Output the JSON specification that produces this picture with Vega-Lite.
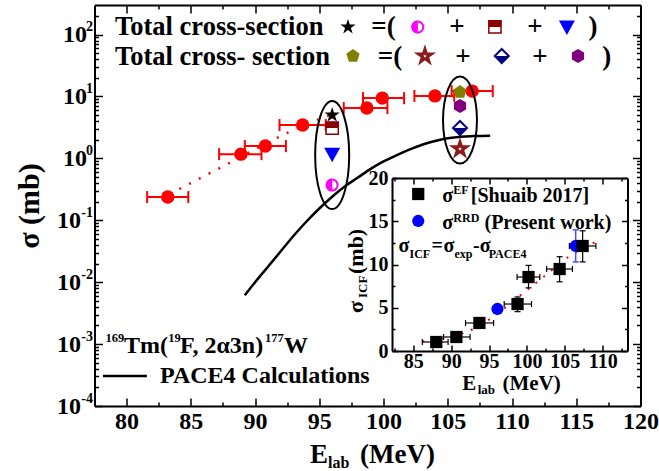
{
  "$schema": "https://vega.github.io/schema/vega-lite/v6.json",
  "width": 546,
  "height": 401,
  "autosize": {"type": "none"},
  "padding": {"left": 94.5, "top": 5, "right": 18.5, "bottom": 65},
  "config": {
    "font": "Liberation Serif",
    "view": {"stroke": null},
    "axis": {"grid": false, "domainColor": "black", "tickColor": "black", "labelColor": "black", "titleColor": "black", "labelFont": "Liberation Serif", "titleFont": "Liberation Serif", "labelFontWeight": "bold", "titleFontWeight": "bold", "domainWidth": 2, "tickWidth": 1.5},
    "point": {"opacity": 1},
    "tick": {"opacity": 1},
    "text": {"font": "Liberation Serif", "fontWeight": "bold", "color": "black"}
  },
  "resolve": {"scale": {"x": "independent", "y": "independent"}, "axis": {"x": "independent", "y": "independent"}},
  "layer": [
    {
      "resolve": {"axis": {"x": "independent", "y": "independent"}},
      "layer": [
        {
          "data": {"values": [
            {"x": 89.2, "y": 0.00617}, {"x": 90, "y": 0.01}, {"x": 91, "y": 0.0178}, {"x": 92, "y": 0.0316}, {"x": 93, "y": 0.0562},
            {"x": 94, "y": 0.0955}, {"x": 95, "y": 0.155}, {"x": 96, "y": 0.24}, {"x": 97, "y": 0.355}, {"x": 98, "y": 0.49},
            {"x": 99, "y": 0.676}, {"x": 100, "y": 0.891}, {"x": 101, "y": 1.12}, {"x": 102, "y": 1.38}, {"x": 103, "y": 1.66},
            {"x": 104, "y": 1.91}, {"x": 105, "y": 2.11}, {"x": 106, "y": 2.24}, {"x": 107, "y": 2.29}, {"x": 108.3, "y": 2.32}
          ]},
          "mark": {"type": "line", "color": "black", "strokeWidth": 2.5, "interpolate": "monotone"},
          "encoding": {
            "x": {"field": "x", "type": "quantitative", "scale": {"domain": [77.5, 120], "nice": false, "zero": false},
              "axis": {"orient": "bottom", "values": [80, 85, 90, 95, 100, 105, 110, 115, 120], "tickSize": -8, "labelFontSize": 24, "labelPadding": 11, "labelFlush": false, "labelOverlap": false, "title": null}},
            "y": {"field": "y", "type": "quantitative", "scale": {"type": "log", "domain": [0.0001, 300], "nice": false},
              "axis": {"orient": "left", "values": [0.0001, 0.001, 0.01, 0.1, 1, 10, 100], "tickSize": -8, "labelExpr": "'10'", "labelFontSize": 24, "labelAlign": "right", "labelBaseline": "middle", "labelPadding": {"condition": {"test": "datum.value >= 1", "value": 16}, "value": 22}, "labelFlush": false, "labelOverlap": false, "title": "σ (mb)", "titleFontSize": 30, "titlePadding": 12}}
          }
        },
        {
          "data": {"values": [{"x": 84.1, "y": 0.32}, {"x": 88, "y": 0.84}, {"x": 92.5, "y": 2.57}, {"x": 95.8, "y": 5.0}]},
          "mark": {"type": "line", "color": "#ff0000", "strokeWidth": 2.5, "strokeDash": [2, 9], "interpolate": "monotone"},
          "encoding": {
            "x": {"field": "x", "type": "quantitative", "scale": {"domain": [77.5, 120], "nice": false, "zero": false},
              "axis": {"orient": "bottom", "values": [82.5, 87.5, 92.5, 97.5, 102.5, 107.5, 112.5, 117.5], "tickSize": -4, "labels": false, "domain": false, "title": null}},
            "y": {"field": "y", "type": "quantitative", "scale": {"type": "log", "domain": [0.0001, 300], "nice": false},
              "axis": {"orient": "left", "values": [0.0001, 0.001, 0.01, 0.1, 1, 10, 100], "ticks": false, "domain": false, "labelExpr": "'' + round(log(datum.value)/LN10)", "labelFontSize": 14, "labelAlign": "right", "labelBaseline": "middle", "labelPadding": 2, "labelOffset": -8, "labelFlush": false, "labelOverlap": false, "title": null}}
          }
        },
        {
          "data": {"name": "red", "values": [
            {"x": 83.2, "y": 0.237, "xlo": 81.6, "xhi": 84.8},
            {"x": 88.9, "y": 1.17, "xlo": 87.2, "xhi": 90.5},
            {"x": 90.8, "y": 1.58, "xlo": 89.2, "xhi": 92.4},
            {"x": 93.7, "y": 3.45, "xlo": 91.9, "xhi": 95.5},
            {"x": 98.7, "y": 6.5, "xlo": 96.9, "xhi": 100.3},
            {"x": 99.9, "y": 9.4, "xlo": 98.4, "xhi": 101.6},
            {"x": 104.0, "y": 10.2, "xlo": 102.4, "xhi": 105.5},
            {"x": 106.9, "y": 12.2, "xlo": 105.3, "xhi": 108.5}
          ]},
          "mark": {"type": "rule", "color": "#ff0000", "strokeWidth": 2},
          "encoding": {
            "x": {"field": "xlo", "type": "quantitative", "scale": {"domain": [77.5, 120], "nice": false, "zero": false},
              "axis": {"orient": "top", "values": [80, 85, 90, 95, 100, 105, 110, 115, 120], "tickSize": -8, "labels": false, "title": null}},
            "x2": {"field": "xhi"},
            "y": {"field": "y", "type": "quantitative", "scale": {"type": "log", "domain": [0.0001, 300], "nice": false},
              "axis": {"orient": "left", "values": [0.0002, 0.0003, 0.0004, 0.0005, 0.0006, 0.0007, 0.0008, 0.0009, 0.002, 0.003, 0.004, 0.005, 0.006, 0.007, 0.008, 0.009, 0.02, 0.03, 0.04, 0.05, 0.06, 0.07, 0.08, 0.09, 0.2, 0.3, 0.4, 0.5, 0.6, 0.7, 0.8, 0.9, 2, 3, 4, 5, 6, 7, 8, 9, 20, 30, 40, 50, 60, 70, 80, 90, 200], "tickSize": -4, "labels": false, "domain": false, "title": null}}
          }
        },
        {
          "data": {"name": "red"},
          "transform": [{"fold": ["xlo", "xhi"], "as": ["k", "xc"]}],
          "mark": {"type": "tick", "orient": "vertical", "color": "#ff0000", "size": 12, "thickness": 2},
          "encoding": {
            "x": {"field": "xc", "type": "quantitative", "scale": {"domain": [77.5, 120], "nice": false, "zero": false},
              "axis": {"orient": "top", "values": [82.5, 87.5, 92.5, 97.5, 102.5, 107.5, 112.5, 117.5], "tickSize": -4, "labels": false, "domain": false, "title": null}},
            "y": {"field": "y", "type": "quantitative", "scale": {"type": "log", "domain": [0.0001, 300], "nice": false},
              "axis": {"orient": "right", "values": [0.0001, 0.001, 0.01, 0.1, 1, 10, 100], "tickSize": -8, "labels": false, "title": null}}
          }
        },
        {
          "data": {"name": "red"},
          "mark": {"type": "point", "shape": "circle", "filled": true, "color": "#ff0000", "size": 180},
          "encoding": {
            "x": {"field": "x", "type": "quantitative", "scale": {"domain": [77.5, 120], "nice": false, "zero": false}, "axis": null},
            "y": {"field": "y", "type": "quantitative", "scale": {"type": "log", "domain": [0.0001, 300], "nice": false},
              "axis": {"orient": "right", "values": [0.0002, 0.0003, 0.0004, 0.0005, 0.0006, 0.0007, 0.0008, 0.0009, 0.002, 0.003, 0.004, 0.005, 0.006, 0.007, 0.008, 0.009, 0.02, 0.03, 0.04, 0.05, 0.06, 0.07, 0.08, 0.09, 0.2, 0.3, 0.4, 0.5, 0.6, 0.7, 0.8, 0.9, 2, 3, 4, 5, 6, 7, 8, 9, 20, 30, 40, 50, 60, 70, 80, 90, 200], "tickSize": -4, "labels": false, "domain": false, "title": null}}
          }
        },
        {
          "data": {"values": [{"x": 96.0, "y": 1.13}]},
          "mark": {"type": "point", "shape": "M0,-1A0.315,1,0,1,1,0,1A0.315,1,0,1,1,0,-1Z", "filled": false, "stroke": "black", "strokeWidth": 2, "size": 11664},
          "encoding": {
            "x": {"field": "x", "type": "quantitative", "scale": {"domain": [77.5, 120], "nice": false, "zero": false}, "axis": null},
            "y": {"field": "y", "type": "quantitative", "scale": {"type": "log", "domain": [0.0001, 300], "nice": false}, "axis": null}
          }
        },
        {
          "data": {"values": [{"x": 105.95, "y": 4.16}]},
          "mark": {"type": "point", "shape": "M0,-1A0.39,1,0,1,1,0,1A0.39,1,0,1,1,0,-1Z", "filled": false, "stroke": "black", "strokeWidth": 2, "size": 7569},
          "encoding": {
            "x": {"field": "x", "type": "quantitative", "scale": {"domain": [77.5, 120], "nice": false, "zero": false}, "axis": null},
            "y": {"field": "y", "type": "quantitative", "scale": {"type": "log", "domain": [0.0001, 300], "nice": false}, "axis": null}
          }
        },
        {
          "data": {"values": [{"x": 96.0, "y": 5.0}, {"x": 97.23, "y": 132.4}]},
          "mark": {"type": "point", "shape": "M0,-1L0.2245,-0.309L0.951,-0.309L0.363,0.118L0.588,0.809L0,0.382L-0.588,0.809L-0.363,0.118L-0.951,-0.309L-0.2245,-0.309Z", "filled": true, "color": "black", "size": 256},
          "encoding": {
            "x": {"field": "x", "type": "quantitative", "scale": {"domain": [77.5, 120], "nice": false, "zero": false}, "axis": null},
            "y": {"field": "y", "type": "quantitative", "scale": {"type": "log", "domain": [0.0001, 300], "nice": false}, "axis": null}
          }
        },
        {
          "data": {"name": "mag", "values": [{"x": 96.0, "y": 0.37}, {"x": 102.67, "y": 132.4}]},
          "mark": {"type": "point", "shape": "circle", "filled": true, "fill": "white", "stroke": "#ff00ff", "strokeWidth": 2, "size": 120},
          "encoding": {
            "x": {"field": "x", "type": "quantitative", "scale": {"domain": [77.5, 120], "nice": false, "zero": false}, "axis": null},
            "y": {"field": "y", "type": "quantitative", "scale": {"type": "log", "domain": [0.0001, 300], "nice": false}, "axis": null}
          }
        },
        {
          "data": {"name": "mag"},
          "mark": {"type": "point", "shape": "M0,-1A1,1,0,0,0,0,1Z", "filled": true, "color": "#ff00ff", "size": 169},
          "encoding": {
            "x": {"field": "x", "type": "quantitative", "scale": {"domain": [77.5, 120], "nice": false, "zero": false}, "axis": null},
            "y": {"field": "y", "type": "quantitative", "scale": {"type": "log", "domain": [0.0001, 300], "nice": false}, "axis": null}
          }
        },
        {
          "data": {"name": "brsq", "values": [{"x": 96.0, "y": 3.09}, {"x": 108.67, "y": 132.4}]},
          "mark": {"type": "point", "shape": "square", "filled": true, "fill": "white", "stroke": "#8b0000", "strokeWidth": 1.5, "size": 150},
          "encoding": {
            "x": {"field": "x", "type": "quantitative", "scale": {"domain": [77.5, 120], "nice": false, "zero": false}, "axis": null},
            "y": {"field": "y", "type": "quantitative", "scale": {"type": "log", "domain": [0.0001, 300], "nice": false}, "axis": null}
          }
        },
        {
          "data": {"name": "brsq"},
          "mark": {"type": "point", "shape": "M-1,-1L1,-1L1,0L-1,0Z", "filled": true, "color": "#8b0000", "size": 150},
          "encoding": {
            "x": {"field": "x", "type": "quantitative", "scale": {"domain": [77.5, 120], "nice": false, "zero": false}, "axis": null},
            "y": {"field": "y", "type": "quantitative", "scale": {"type": "log", "domain": [0.0001, 300], "nice": false}, "axis": null}
          }
        },
        {
          "data": {"values": [{"x": 96.0, "y": 1.17}, {"x": 114.27, "y": 132.4}]},
          "mark": {"type": "point", "shape": "M-1,-0.8L1,-0.8L0,1Z", "filled": true, "color": "#0000ff", "size": 256},
          "encoding": {
            "x": {"field": "x", "type": "quantitative", "scale": {"domain": [77.5, 120], "nice": false, "zero": false}, "axis": null},
            "y": {"field": "y", "type": "quantitative", "scale": {"type": "log", "domain": [0.0001, 300], "nice": false}, "axis": null}
          }
        },
        {
          "data": {"values": [{"x": 105.95, "y": 11.8}, {"x": 97.62, "y": 45.0}]},
          "mark": {"type": "point", "shape": "M0,-1L0.951,-0.309L0.588,0.809L-0.588,0.809L-0.951,-0.309Z", "filled": true, "color": "#808000", "size": 196},
          "encoding": {
            "x": {"field": "x", "type": "quantitative", "scale": {"domain": [77.5, 120], "nice": false, "zero": false}, "axis": null},
            "y": {"field": "y", "type": "quantitative", "scale": {"type": "log", "domain": [0.0001, 300], "nice": false}, "axis": null}
          }
        },
        {
          "data": {"values": [{"x": 105.95, "y": 1.42}, {"x": 103.22, "y": 45.0}]},
          "mark": {"type": "point", "shape": "M0,-1L0.2245,-0.309L0.951,-0.309L0.363,0.118L0.588,0.809L0,0.382L-0.588,0.809L-0.363,0.118L-0.951,-0.309L-0.2245,-0.309Z", "filled": true, "fill": "white", "stroke": "#8b1a1a", "strokeWidth": 3, "size": 190},
          "encoding": {
            "x": {"field": "x", "type": "quantitative", "scale": {"domain": [77.5, 120], "nice": false, "zero": false}, "axis": null},
            "y": {"field": "y", "type": "quantitative", "scale": {"type": "log", "domain": [0.0001, 300], "nice": false}, "axis": null}
          }
        },
        {
          "data": {"name": "dia", "values": [{"x": 105.95, "y": 3.09}, {"x": 109.2, "y": 45.0}]},
          "mark": {"type": "point", "shape": "M0,-1L1,0L0,1L-1,0Z", "filled": true, "fill": "white", "stroke": "#000080", "strokeWidth": 2, "size": 196},
          "encoding": {
            "x": {"field": "x", "type": "quantitative", "scale": {"domain": [77.5, 120], "nice": false, "zero": false}, "axis": null},
            "y": {"field": "y", "type": "quantitative", "scale": {"type": "log", "domain": [0.0001, 300], "nice": false}, "axis": null}
          }
        },
        {
          "data": {"name": "dia"},
          "mark": {"type": "point", "shape": "M-1,0L1,0L0,1Z", "filled": true, "color": "#000080", "size": 196},
          "encoding": {
            "x": {"field": "x", "type": "quantitative", "scale": {"domain": [77.5, 120], "nice": false, "zero": false}, "axis": null},
            "y": {"field": "y", "type": "quantitative", "scale": {"type": "log", "domain": [0.0001, 300], "nice": false}, "axis": null}
          }
        },
        {
          "data": {"values": [{"x": 105.95, "y": 7.0}, {"x": 115.13, "y": 45.0}]},
          "mark": {"type": "point", "shape": "M0,-1L0.866,-0.5L0.866,0.5L0,1L-0.866,0.5L-0.866,-0.5Z", "filled": true, "color": "#800080", "size": 196},
          "encoding": {
            "x": {"field": "x", "type": "quantitative", "scale": {"domain": [77.5, 120], "nice": false, "zero": false}, "axis": null},
            "y": {"field": "y", "type": "quantitative", "scale": {"type": "log", "domain": [0.0001, 300], "nice": false}, "axis": null}
          }
        },
        {
          "data": {"values": [{"x": 78.16, "x2": 81.58, "y": 0.000305}]},
          "mark": {"type": "rule", "color": "black", "strokeWidth": 2.5},
          "encoding": {
            "x": {"field": "x", "type": "quantitative", "scale": {"domain": [77.5, 120], "nice": false, "zero": false}, "axis": null},
            "x2": {"field": "x2"},
            "y": {"field": "y", "type": "quantitative", "scale": {"type": "log", "domain": [0.0001, 300], "nice": false}, "axis": null}
          }
        },
        {
          "data": {"values": [
            {"x": 79.1, "y": 98.2, "t": "Total cross-section"},
            {"x": 79.1, "y": 32.2, "t": "Total cross- section"}
          ]},
          "mark": {"type": "text", "fontSize": 26.5, "align": "left", "baseline": "alphabetic"},
          "encoding": {
            "x": {"field": "x", "type": "quantitative", "scale": {"domain": [77.5, 120], "nice": false, "zero": false}, "axis": null},
            "y": {"field": "y", "type": "quantitative", "scale": {"type": "log", "domain": [0.0001, 300], "nice": false}, "axis": null},
            "text": {"field": "t"}
          }
        },
        {
          "data": {"values": [
            {"x": 99.99, "y": 98.2, "t": "=("}, {"x": 105.71, "y": 98.2, "t": "+"}, {"x": 111.78, "y": 98.2, "t": "+"}, {"x": 116.3, "y": 98.2, "t": ")"},
            {"x": 100.5, "y": 32.2, "t": "=("}, {"x": 106.18, "y": 32.2, "t": "+"}, {"x": 112.17, "y": 32.2, "t": "+"}, {"x": 117.38, "y": 32.2, "t": ")"}
          ]},
          "mark": {"type": "text", "fontSize": 27, "align": "center", "baseline": "alphabetic"},
          "encoding": {
            "x": {"field": "x", "type": "quantitative", "scale": {"domain": [77.5, 120], "nice": false, "zero": false}, "axis": null},
            "y": {"field": "y", "type": "quantitative", "scale": {"type": "log", "domain": [0.0001, 300], "nice": false}, "axis": null},
            "text": {"field": "t"}
          }
        },
        {
          "data": {"values": [
            {"x": 79.8, "y": 0.00072, "t": "Tm("},
            {"x": 84.15, "y": 0.00072, "t": "F, 2α3n)"},
            {"x": 92.25, "y": 0.00072, "t": "W"},
            {"x": 82.6, "y": 0.000234, "t": "PACE4 Calculations"}
          ]},
          "mark": {"type": "text", "fontSize": 24, "align": "left", "baseline": "alphabetic"},
          "encoding": {
            "x": {"field": "x", "type": "quantitative", "scale": {"domain": [77.5, 120], "nice": false, "zero": false}, "axis": null},
            "y": {"field": "y", "type": "quantitative", "scale": {"type": "log", "domain": [0.0001, 300], "nice": false}, "axis": null},
            "text": {"field": "t"}
          }
        },
        {
          "data": {"values": [
            {"x": 78.35, "y": 0.00108, "t": "169"},
            {"x": 83.25, "y": 0.00108, "t": "19"},
            {"x": 90.77, "y": 0.00108, "t": "177"}
          ]},
          "mark": {"type": "text", "fontSize": 12.5, "align": "left", "baseline": "alphabetic"},
          "encoding": {
            "x": {"field": "x", "type": "quantitative", "scale": {"domain": [77.5, 120], "nice": false, "zero": false}, "axis": null},
            "y": {"field": "y", "type": "quantitative", "scale": {"type": "log", "domain": [0.0001, 300], "nice": false}, "axis": null},
            "text": {"field": "t"}
          }
        },
        {
          "data": {"values": [
            {"x": 94.27, "y": 0.000012, "t": "E"},
            {"x": 98.16, "y": 0.000012, "t": "(MeV)"}
          ]},
          "mark": {"type": "text", "fontSize": 27, "align": "left", "baseline": "alphabetic"},
          "encoding": {
            "x": {"field": "x", "type": "quantitative", "scale": {"domain": [77.5, 120], "nice": false, "zero": false}, "axis": null},
            "y": {"field": "y", "type": "quantitative", "scale": {"type": "log", "domain": [0.0001, 300], "nice": false}, "axis": null},
            "text": {"field": "t"}
          }
        },
        {
          "data": {"values": [{"x": 95.67, "y": 0.0000099, "t": "lab"}]},
          "mark": {"type": "text", "fontSize": 16, "align": "left", "baseline": "alphabetic"},
          "encoding": {
            "x": {"field": "x", "type": "quantitative", "scale": {"domain": [77.5, 120], "nice": false, "zero": false}, "axis": null},
            "y": {"field": "y", "type": "quantitative", "scale": {"type": "log", "domain": [0.0001, 300], "nice": false}, "axis": null},
            "text": {"field": "t"}
          }
        }
      ]
    },
    {
      "resolve": {"axis": {"x": "independent", "y": "independent"}},
      "layer": [
        {
          "data": {"values": [{}]},
          "mark": {"type": "rect", "fill": "white"},
          "encoding": {
            "x": {"datum": 82.2, "type": "quantitative", "scale": {"domain": [82.2, 113.2], "range": [297.5, 532.5], "nice": false, "zero": false}, "axis": null},
            "x2": {"datum": 113.2},
            "y": {"datum": 0, "type": "quantitative", "scale": {"domain": [0, 20], "range": [346, 173], "nice": false, "zero": false}, "axis": null},
            "y2": {"datum": 20}
          }
        },
        {
          "data": {"values": [{"x": 86.2, "y": 1.1}, {"x": 88.8, "y": 1.45}, {"x": 92.3, "y": 2.3}, {"x": 95.8, "y": 4.1}, {"x": 99.5, "y": 6.7}, {"x": 102.1, "y": 8.5}, {"x": 105.5, "y": 10.9}, {"x": 109.3, "y": 12.7}]},
          "mark": {"type": "line", "color": "#ff0000", "strokeWidth": 2, "strokeDash": [2, 8], "interpolate": "monotone"},
          "encoding": {
            "x": {"field": "x", "type": "quantitative", "scale": {"domain": [82.2, 113.2], "range": [297.5, 532.5], "nice": false, "zero": false},
              "axis": {"orient": "bottom", "offset": -55, "zindex": 1, "values": [85, 90, 95, 100, 105, 110], "tickSize": -6, "labelFontSize": 20, "labelPadding": 6.5, "labelFlush": false, "labelOverlap": false, "title": null}},
            "y": {"field": "y", "type": "quantitative", "scale": {"domain": [0, 20], "range": [346, 173], "nice": false, "zero": false},
              "axis": {"orient": "left", "offset": -297.5, "zindex": 1, "values": [0, 5, 10, 15, 20], "tickSize": -6, "labelFontSize": 20, "labelPadding": 10, "labelFlush": false, "labelOverlap": false, "title": null}}
          }
        },
        {
          "data": {"name": "ef", "values": [
            {"x": 88.04, "y": 1.04, "xlo": 86.2, "xhi": 89.6, "ylo": 0.8, "yhi": 1.3},
            {"x": 90.69, "y": 1.62, "xlo": 89.0, "xhi": 92.5, "ylo": 1.35, "yhi": 1.9},
            {"x": 93.73, "y": 3.24, "xlo": 91.9, "xhi": 95.6, "ylo": 2.9, "yhi": 3.6},
            {"x": 98.76, "y": 5.43, "xlo": 97.0, "xhi": 100.6, "ylo": 4.55, "yhi": 6.25},
            {"x": 100.21, "y": 8.55, "xlo": 98.7, "xhi": 101.7, "ylo": 7.3, "yhi": 9.9},
            {"x": 104.31, "y": 9.48, "xlo": 102.6, "xhi": 106.0, "ylo": 8.0, "yhi": 10.9},
            {"x": 107.35, "y": 12.14, "xlo": 105.6, "xhi": 109.1, "ylo": 10.3, "yhi": 13.9}
          ]},
          "mark": {"type": "rule", "color": "black", "strokeWidth": 1.2},
          "encoding": {
            "x": {"field": "xlo", "type": "quantitative", "scale": {"domain": [82.2, 113.2], "range": [297.5, 532.5], "nice": false, "zero": false},
              "axis": {"orient": "bottom", "offset": -55, "zindex": 1, "values": [82.5, 87.5, 92.5, 97.5, 102.5, 107.5, 112.5], "tickSize": -3, "labels": false, "domain": false, "title": null}},
            "x2": {"field": "xhi"},
            "y": {"field": "y", "type": "quantitative", "scale": {"domain": [0, 20], "range": [346, 173], "nice": false, "zero": false},
              "axis": {"orient": "left", "offset": -297.5, "zindex": 1, "values": [2.5, 7.5, 12.5, 17.5], "tickSize": -3, "labels": false, "domain": false, "title": null}}
          }
        },
        {
          "data": {"name": "ef"},
          "mark": {"type": "rule", "color": "black", "strokeWidth": 1.2},
          "encoding": {
            "x": {"field": "x", "type": "quantitative", "scale": {"domain": [82.2, 113.2], "range": [297.5, 532.5], "nice": false, "zero": false},
              "axis": {"orient": "top", "offset": -173, "zindex": 1, "values": [85, 90, 95, 100, 105, 110], "tickSize": -6, "labels": false, "title": null}},
            "y": {"field": "ylo", "type": "quantitative", "scale": {"domain": [0, 20], "range": [346, 173], "nice": false, "zero": false},
              "axis": {"orient": "right", "offset": -13, "zindex": 1, "values": [0, 5, 10, 15, 20], "tickSize": -6, "labels": false, "title": null}},
            "y2": {"field": "yhi"}
          }
        },
        {
          "data": {"name": "ef"},
          "transform": [{"fold": ["xlo", "xhi"], "as": ["k", "xc"]}],
          "mark": {"type": "tick", "orient": "vertical", "color": "black", "size": 6, "thickness": 1.2},
          "encoding": {
            "x": {"field": "xc", "type": "quantitative", "scale": {"domain": [82.2, 113.2], "range": [297.5, 532.5], "nice": false, "zero": false},
              "axis": {"orient": "top", "offset": -173, "zindex": 1, "values": [82.5, 87.5, 92.5, 97.5, 102.5, 107.5, 112.5], "tickSize": -3, "labels": false, "domain": false, "title": null}},
            "y": {"field": "y", "type": "quantitative", "scale": {"domain": [0, 20], "range": [346, 173], "nice": false, "zero": false},
              "axis": {"orient": "right", "offset": -13, "zindex": 1, "values": [2.5, 7.5, 12.5, 17.5], "tickSize": -3, "labels": false, "domain": false, "title": null}}
          }
        },
        {
          "data": {"name": "ef"},
          "transform": [{"fold": ["ylo", "yhi"], "as": ["k", "yc"]}],
          "mark": {"type": "tick", "orient": "horizontal", "color": "black", "size": 6, "thickness": 1.2},
          "encoding": {
            "x": {"field": "x", "type": "quantitative", "scale": {"domain": [82.2, 113.2], "range": [297.5, 532.5], "nice": false, "zero": false}, "axis": null},
            "y": {"field": "yc", "type": "quantitative", "scale": {"domain": [0, 20], "range": [346, 173], "nice": false, "zero": false}, "axis": null}
          }
        },
        {
          "data": {"name": "rrd", "values": [
            {"x": 96.11, "y": 4.86, "ylo": 4.35, "yhi": 5.35},
            {"x": 106.43, "y": 12.14, "ylo": 10.3, "yhi": 14.0}
          ]},
          "mark": {"type": "rule", "color": "#4d4dff", "strokeWidth": 1.5},
          "encoding": {
            "x": {"field": "x", "type": "quantitative", "scale": {"domain": [82.2, 113.2], "range": [297.5, 532.5], "nice": false, "zero": false}, "axis": null},
            "y": {"field": "ylo", "type": "quantitative", "scale": {"domain": [0, 20], "range": [346, 173], "nice": false, "zero": false}, "axis": null},
            "y2": {"field": "yhi"}
          }
        },
        {
          "data": {"name": "rrd"},
          "transform": [{"fold": ["ylo", "yhi"], "as": ["k", "yc"]}],
          "mark": {"type": "tick", "orient": "horizontal", "color": "#4d4dff", "size": 6, "thickness": 1.5},
          "encoding": {
            "x": {"field": "x", "type": "quantitative", "scale": {"domain": [82.2, 113.2], "range": [297.5, 532.5], "nice": false, "zero": false}, "axis": null},
            "y": {"field": "yc", "type": "quantitative", "scale": {"domain": [0, 20], "range": [346, 173], "nice": false, "zero": false}, "axis": null}
          }
        },
        {
          "data": {"values": [{"x": 85.66, "y": 15.03}, {"x": 96.11, "y": 4.86}, {"x": 106.43, "y": 12.14}]},
          "mark": {"type": "point", "shape": "circle", "filled": true, "color": "#0000ff", "size": 150},
          "encoding": {
            "x": {"field": "x", "type": "quantitative", "scale": {"domain": [82.2, 113.2], "range": [297.5, 532.5], "nice": false, "zero": false}, "axis": null},
            "y": {"field": "y", "type": "quantitative", "scale": {"domain": [0, 20], "range": [346, 173], "nice": false, "zero": false}, "axis": null}
          }
        },
        {
          "data": {"values": [
            {"x": 85.66, "y": 18.15}, {"x": 88.04, "y": 1.04}, {"x": 90.69, "y": 1.62}, {"x": 93.73, "y": 3.24}, {"x": 98.76, "y": 5.43},
            {"x": 100.21, "y": 8.55}, {"x": 104.31, "y": 9.48}, {"x": 107.35, "y": 12.14}
          ]},
          "mark": {"type": "point", "shape": "square", "filled": true, "color": "black", "size": 150},
          "encoding": {
            "x": {"field": "x", "type": "quantitative", "scale": {"domain": [82.2, 113.2], "range": [297.5, 532.5], "nice": false, "zero": false}, "axis": null},
            "y": {"field": "y", "type": "quantitative", "scale": {"domain": [0, 20], "range": [346, 173], "nice": false, "zero": false}, "axis": null}
          }
        },
        {
          "data": {"values": [
            {"x": 88.84, "y": 17.23, "t": "σ"}, {"x": 92.6, "y": 17.23, "t": "[Shuaib 2017]"},
            {"x": 88.84, "y": 14.1, "t": "σ"}, {"x": 94.4, "y": 14.1, "t": "(Present work)"},
            {"x": 83.06, "y": 11.45, "t": "σ"}, {"x": 87.4, "y": 11.45, "t": "="}, {"x": 89.0, "y": 11.45, "t": "σ"}, {"x": 92.9, "y": 11.45, "t": "-σ"}
          ]},
          "mark": {"type": "text", "fontSize": 20, "align": "left", "baseline": "alphabetic"},
          "encoding": {
            "x": {"field": "x", "type": "quantitative", "scale": {"domain": [82.2, 113.2], "range": [297.5, 532.5], "nice": false, "zero": false}, "axis": null},
            "y": {"field": "y", "type": "quantitative", "scale": {"domain": [0, 20], "range": [346, 173], "nice": false, "zero": false}, "axis": null},
            "text": {"field": "t"}
          }
        },
        {
          "data": {"values": [
            {"x": 90.29, "y": 18.1, "t": "EF"}, {"x": 90.29, "y": 14.95, "t": "RRD"},
            {"x": 84.51, "y": 10.75, "t": "ICF"}, {"x": 90.45, "y": 10.75, "t": "exp"}, {"x": 94.95, "y": 10.75, "t": "PACE4"}
          ]},
          "mark": {"type": "text", "fontSize": 12, "align": "left", "baseline": "alphabetic"},
          "encoding": {
            "x": {"field": "x", "type": "quantitative", "scale": {"domain": [82.2, 113.2], "range": [297.5, 532.5], "nice": false, "zero": false}, "axis": null},
            "y": {"field": "y", "type": "quantitative", "scale": {"domain": [0, 20], "range": [346, 173], "nice": false, "zero": false}, "axis": null},
            "text": {"field": "t"}
          }
        },
        {
          "data": {"values": [{"x": 91.48, "y": -4.5, "t": "E"}, {"x": 96.77, "y": -4.5, "t": "(MeV)"}]},
          "mark": {"type": "text", "fontSize": 21, "align": "left", "baseline": "alphabetic"},
          "encoding": {
            "x": {"field": "x", "type": "quantitative", "scale": {"domain": [82.2, 113.2], "range": [297.5, 532.5], "nice": false, "zero": false}, "axis": null},
            "y": {"field": "y", "type": "quantitative", "scale": {"domain": [0, 20], "range": [346, 173], "nice": false, "zero": false}, "axis": null},
            "text": {"field": "t"}
          }
        },
        {
          "data": {"values": [{"x": 93.5, "y": -4.95, "t": "lab"}]},
          "mark": {"type": "text", "fontSize": 13, "align": "left", "baseline": "alphabetic"},
          "encoding": {
            "x": {"field": "x", "type": "quantitative", "scale": {"domain": [82.2, 113.2], "range": [297.5, 532.5], "nice": false, "zero": false}, "axis": null},
            "y": {"field": "y", "type": "quantitative", "scale": {"domain": [0, 20], "range": [346, 173], "nice": false, "zero": false}, "axis": null},
            "text": {"field": "t"}
          }
        },
        {
          "data": {"values": [{"x": 78.39, "y": 4.39, "t": "σ"}, {"x": 78.39, "y": 8.9, "t": "(mb)"}]},
          "mark": {"type": "text", "fontSize": 22, "align": "left", "baseline": "alphabetic", "angle": 270},
          "encoding": {
            "x": {"field": "x", "type": "quantitative", "scale": {"domain": [82.2, 113.2], "range": [297.5, 532.5], "nice": false, "zero": false}, "axis": null},
            "y": {"field": "y", "type": "quantitative", "scale": {"domain": [0, 20], "range": [346, 173], "nice": false, "zero": false}, "axis": null},
            "text": {"field": "t"}
          }
        },
        {
          "data": {"values": [{"x": 78.92, "y": 6.13, "t": "ICF"}]},
          "mark": {"type": "text", "fontSize": 13, "align": "left", "baseline": "alphabetic", "angle": 270},
          "encoding": {
            "x": {"field": "x", "type": "quantitative", "scale": {"domain": [82.2, 113.2], "range": [297.5, 532.5], "nice": false, "zero": false}, "axis": null},
            "y": {"field": "y", "type": "quantitative", "scale": {"domain": [0, 20], "range": [346, 173], "nice": false, "zero": false}, "axis": null},
            "text": {"field": "t"}
          }
        }
      ]
    }
  ]
}
